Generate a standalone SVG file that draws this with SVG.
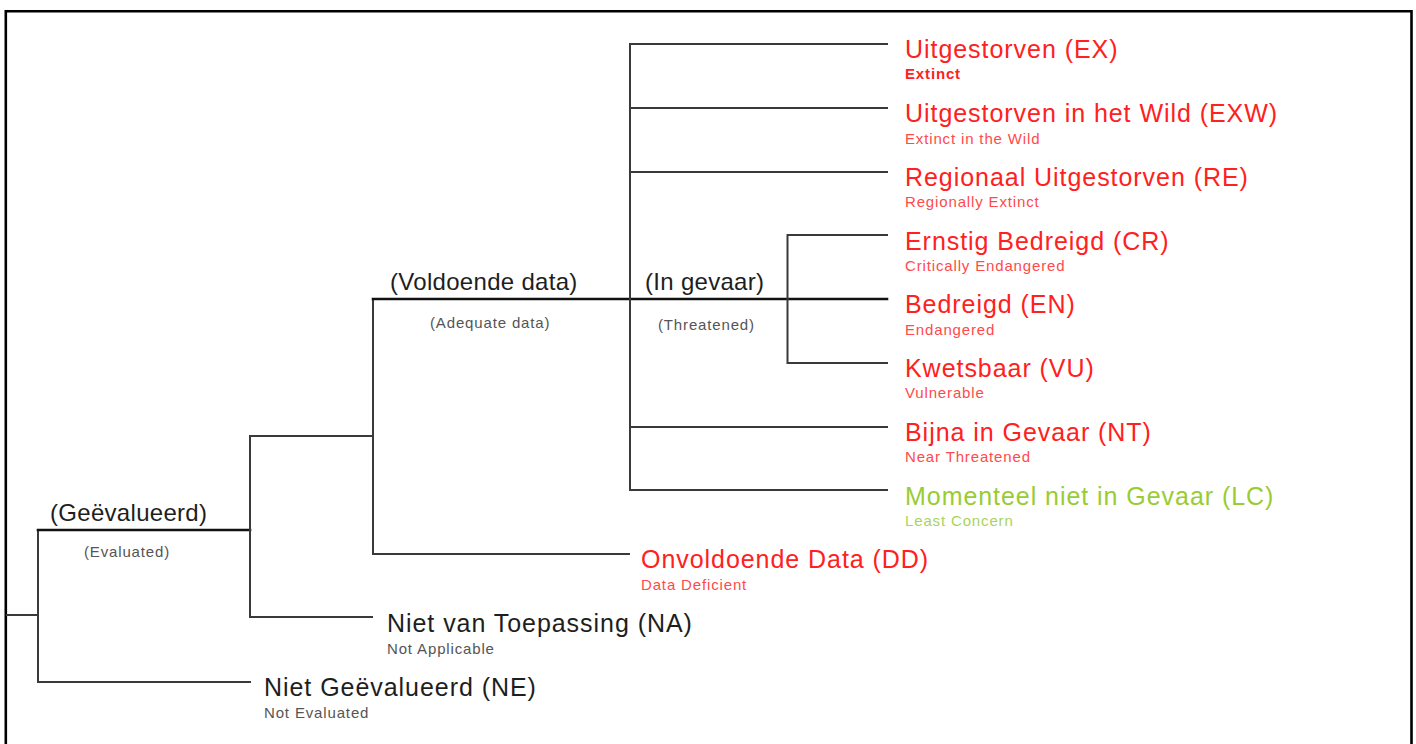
<svg xmlns="http://www.w3.org/2000/svg" width="1416" height="744" viewBox="0 0 1416 744">
<style>
  text { font-family: "Liberation Sans", Arial, sans-serif; }
  .t { font-size: 25px; letter-spacing: 0.95px; }
  .s { font-size: 15px; letter-spacing: 0.85px; }
  .red { fill: #ff2020; }
  .reds { fill: #ff4a4a; }
  .green { fill: #99cc33; }
  .greens { fill: #aad35c; }
  .dark { fill: #1e1e1e; }
  .grey { fill: #555555; }
  .lbl { font-size: 24px; letter-spacing: 0.3px; fill: #1e1e1e; }
  .lbls { font-size: 15px; letter-spacing: 0.85px; fill: #555555; }
  .ln { stroke: #3a3a3a; stroke-width: 2; fill: none; stroke-linecap: square; }
  .thick { stroke: #111111; stroke-width: 2.6; fill: none; stroke-linecap: square; }
</style>
<rect x="0" y="0" width="1416" height="744" fill="#ffffff"/>
<path d="M5.8,760 V11.2 H1411.5 V760" fill="none" stroke="#000000" stroke-width="2.6"/>
<g id="connectors">
  <path class="ln" d="M7,615 H38 M38,530 V682 M38,682 H250"/>
  <path class="thick" d="M38,530 H250"/>
  <path class="ln" d="M250,436 V617 M250,436 H373 M250,617 H372"/>
  <path class="ln" d="M373,299 V554 M373,554 H629"/>
  <path class="thick" d="M373,299 H887"/>
  <path class="ln" d="M630,44 V490 M630,44 H887 M630,108 H887 M630,172 H887 M630,427 H887 M630,490 H887"/>
  <path class="ln" d="M787.5,235 V363 M787.5,235 H887 M787.5,363 H887"/>
</g>
<g id="label-evaluated">
  <text class="lbl" x="50" y="521">(Geëvalueerd)</text>
  <text class="lbls" x="84" y="557">(Evaluated)</text>
</g>
<g id="label-adequate">
  <text class="lbl" x="390" y="290">(Voldoende data)</text>
  <text class="lbls" x="430" y="328">(Adequate data)</text>
</g>
<g id="label-threatened">
  <text class="lbl" x="645" y="290">(In gevaar)</text>
  <text class="lbls" x="658" y="330">(Threatened)</text>
</g>
<g id="node-EX">
  <text class="t red" x="905" y="57.5">Uitgestorven (EX)</text>
  <text class="s red" x="905" y="79" font-weight="bold">Extinct</text>
</g>
<g id="node-EXW">
  <text class="t red" x="905" y="121.5">Uitgestorven in het Wild (EXW)</text>
  <text class="s reds" x="905" y="144">Extinct in the Wild</text>
</g>
<g id="node-RE">
  <text class="t red" x="905" y="185.5">Regionaal Uitgestorven (RE)</text>
  <text class="s reds" x="905" y="207">Regionally Extinct</text>
</g>
<g id="node-CR">
  <text class="t red" x="905" y="249.5">Ernstig Bedreigd (CR)</text>
  <text class="s reds" x="905" y="271">Critically Endangered</text>
</g>
<g id="node-EN">
  <text class="t red" x="905" y="313">Bedreigd (EN)</text>
  <text class="s reds" x="905" y="335">Endangered</text>
</g>
<g id="node-VU">
  <text class="t red" x="905" y="377">Kwetsbaar (VU)</text>
  <text class="s reds" x="905" y="398">Vulnerable</text>
</g>
<g id="node-NT">
  <text class="t red" x="905" y="441">Bijna in Gevaar (NT)</text>
  <text class="s reds" x="905" y="462">Near Threatened</text>
</g>
<g id="node-LC">
  <text class="t green" x="905" y="504.5">Momenteel niet in Gevaar (LC)</text>
  <text class="s greens" x="905" y="526">Least Concern</text>
</g>
<g id="node-DD">
  <text class="t red" x="641" y="568">Onvoldoende Data (DD)</text>
  <text class="s reds" x="641" y="590">Data Deficient</text>
</g>
<g id="node-NA">
  <text class="t dark" x="387" y="632">Niet van Toepassing (NA)</text>
  <text class="s grey" x="387" y="654">Not Applicable</text>
</g>
<g id="node-NE">
  <text class="t dark" x="264" y="696">Niet Geëvalueerd (NE)</text>
  <text class="s grey" x="264" y="718">Not Evaluated</text>
</g>
</svg>
